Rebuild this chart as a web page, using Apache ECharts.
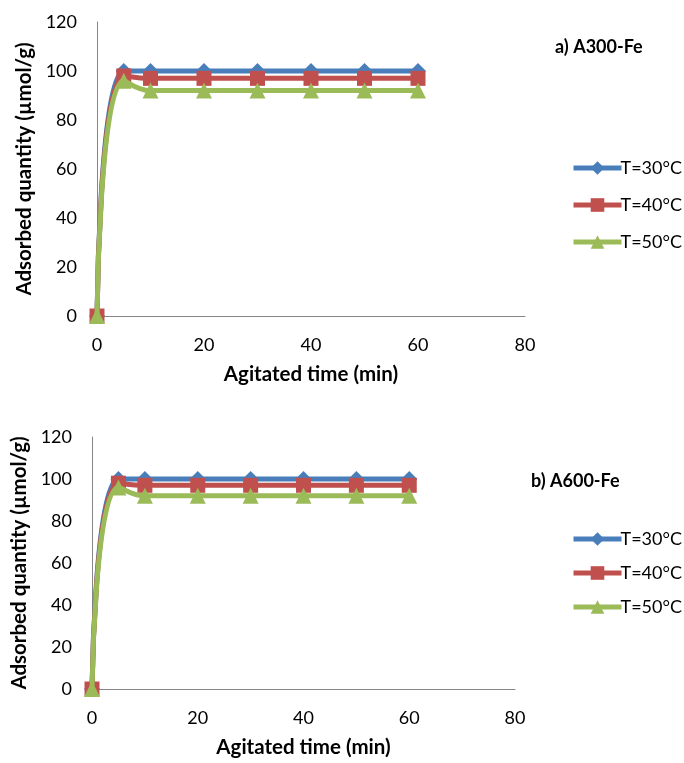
<!DOCTYPE html>
<html><head><meta charset="utf-8">
<script src="https://cdn.jsdelivr.net/npm/echarts@6/dist/echarts.min.js"></script>
<style>html,body{margin:0;padding:0;background:#fff}#c{width:684px;height:763px}</style>
</head><body><div id="c"></div>
<script>
const times = [0, 5, 10, 20, 30, 40, 50, 60];
const seriesNames = ['T=30°C', 'T=40°C', 'T=50°C'];
const a300_30 = [0, 100, 100, 100, 100, 100, 100, 100];
const a300_40 = [0, 98, 97, 97, 97, 97, 97, 97];
const a300_50 = [0, 96, 92, 92, 92, 92, 92, 92];
const a600_30 = [0, 100, 100, 100, 100, 100, 100, 100];
const a600_40 = [0, 98, 97, 97, 97, 97, 97, 97];
const a600_50 = [0, 96, 92, 92, 92, 92, 92, 92];
const panelTitles = ['a) A300-Fe', 'b) A600-Fe'];
const xTitle = 'Agitated time (min)';
const yTitle = 'Adsorbed quantity (µmol/g)';

const colors = ['#4A7EBB', '#C0504D', '#9BBB59'];
const symbols = ['diamond', 'rect', 'triangle'];
const symSizes = [16, 15, 16];
const FONT = 'Lato';

function pairs(ys){ return times.map((t,i)=>[t, ys[i]]); }

function mkSeries(idx, data, k){
  return {
    name: seriesNames[k], type: 'line', xAxisIndex: idx, yAxisIndex: idx,
    data: pairs(data), smooth: 0.5,
    symbol: symbols[k], symbolSize: symSizes[k],
    lineStyle: {color: colors[k], width: 5},
    itemStyle: {color: colors[k]},
    z: 2 + k
  };
}

const grids = [
  {left: 97, top: 22, width: 428, height: 294},
  {left: 92, top: 437, width: 423, height: 252}
];
const axisCommon = {
  axisLine: {show: true, lineStyle: {color: '#868686', width: 1}},
  axisTick: {show: false},
  splitLine: {show: false},
  axisLabel: {color: '#000', fontSize: 18, fontFamily: FONT},
  nameTextStyle: {color: '#000', fontSize: 20.5, fontWeight: 'bold', fontFamily: FONT},
  nameLocation: 'middle'
};
const xAxes = grids.map((g,i)=>Object.assign({}, axisCommon, {
  type: 'value', gridIndex: i, min: 0, max: 80, interval: 20, name: xTitle, nameGap: 48,
  axisLabel: Object.assign({}, axisCommon.axisLabel, {margin: 20})
}));
const yAxes = grids.map((g,i)=>Object.assign({}, axisCommon, {
  type: 'value', gridIndex: i, min: 0, max: 120, interval: 20, name: yTitle, nameGap: 60,
  axisLabel: Object.assign({}, axisCommon.axisLabel, {margin: 20})
}));

const series = [
  mkSeries(0, a300_30, 0), mkSeries(0, a300_40, 1), mkSeries(0, a300_50, 2),
  mkSeries(1, a600_30, 0), mkSeries(1, a600_40, 1), mkSeries(1, a600_50, 2)
];

const legendCommon = {
  orient: 'vertical', left: 566, itemWidth: 48, itemHeight: 17,
  lineStyle: {width: 5},
  textStyle: {color: '#000', fontSize: 18, fontFamily: FONT, padding: [0,0,0,-6]},
  data: seriesNames, selectedMode: false
};

const chart = echarts.init(document.getElementById('c'), null, {renderer: 'canvas'});
chart.setOption({
  animation: false,
  backgroundColor: '#fff',
  title: [
    {text: panelTitles[0], left: 550, top: 33, textStyle: {fontSize: 18, fontWeight: 'bold', fontFamily: FONT, color: '#000'}},
    {text: panelTitles[1], left: 526, top: 467, textStyle: {fontSize: 18, fontWeight: 'bold', fontFamily: FONT, color: '#000'}}
  ],
  legend: [
    Object.assign({}, legendCommon, {top: 154, itemGap: 19}),
    Object.assign({}, legendCommon, {top: 525, itemGap: 16})
  ],
  grid: grids,
  xAxis: xAxes,
  yAxis: yAxes,
  series: series
});
</script></body></html>
